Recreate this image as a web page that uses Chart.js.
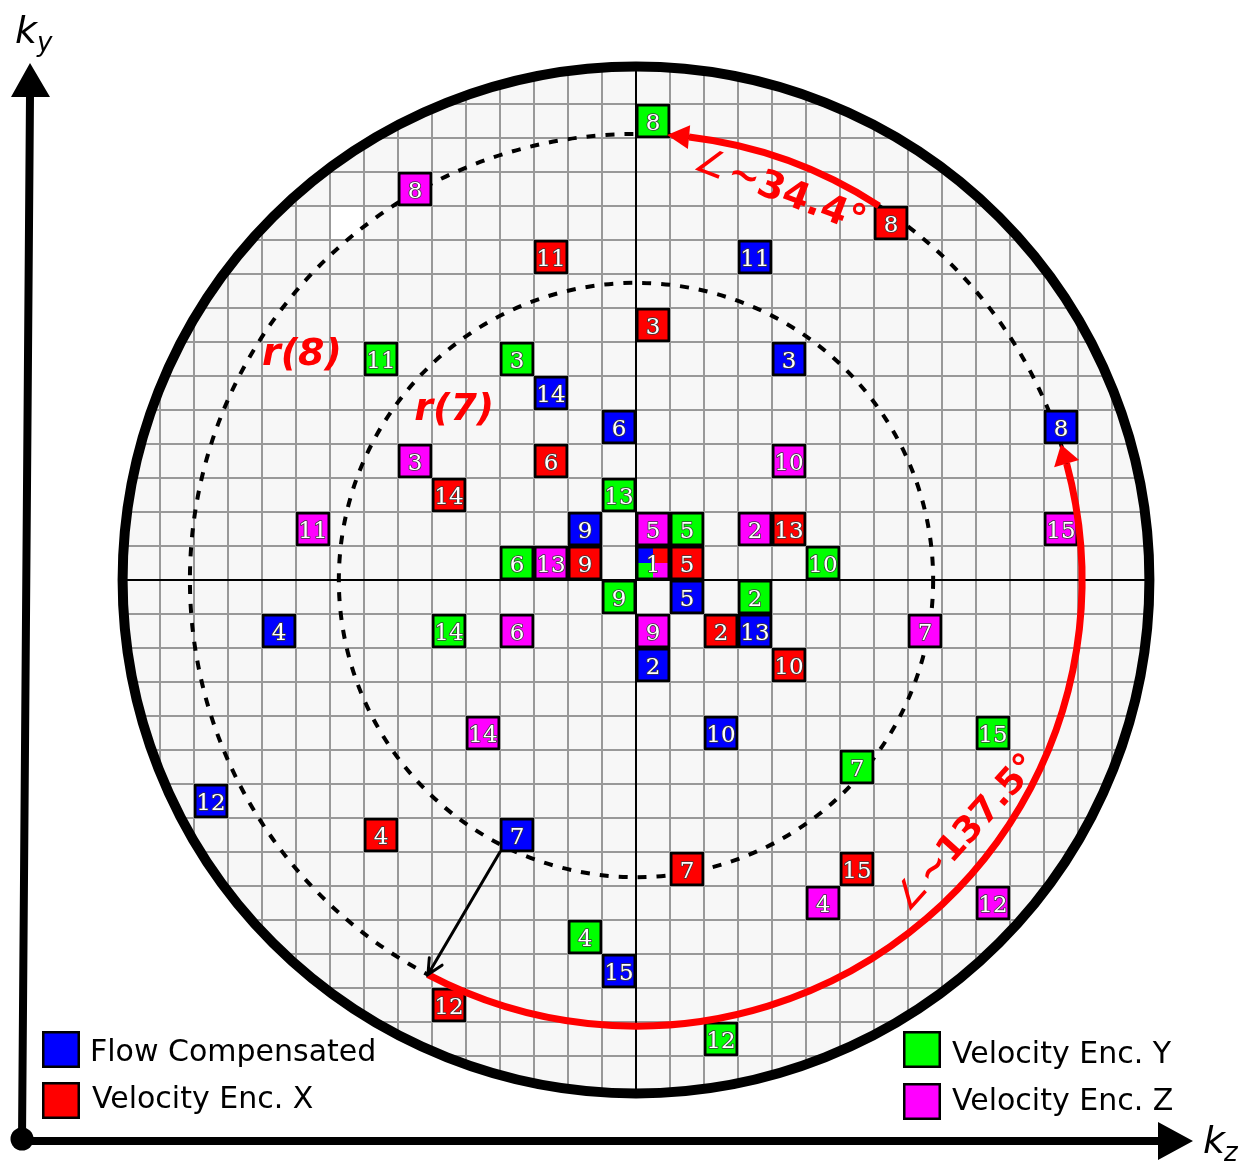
<!DOCTYPE html>
<html>
<head>
<meta charset="utf-8">
<script src="https://cdn.jsdelivr.net/npm/chart.js@4.4.1/dist/chart.umd.min.js"></script>
<style>
  html, body { margin: 0; padding: 0; background: #fff; }
  canvas { display: block; }
</style>
</head>
<body>
<canvas id="kspace" width="1245" height="1163"></canvas>
<script>
// k-space cells (kz, ky) of each acquisition, index = order - 1
const orderLabels = ['1','2','3','4','5','6','7','8','9','10','11','12','13','14','15'];

const fcKz = [0, 0, 4, -11, 1, -1, -4, 12, -2, 2, 3, -13, 3, -3, -1];
const fcKy = [0, -3, 6, -2, -1, 4, -8, 4, 1, -5, 9, -7, -2, 5, -12];

const vxKz = [0, 2, 0, -8, 1, -3, 1, 7, -2, 4, -3, -6, 4, -6, 6];
const vxKy = [0, -2, 7, -8, 0, 3, -9, 10, 0, -3, 9, -13, 1, 2, -9];

const vyKz = [0, 3, -4, -2, 1, -4, 6, 0, -1, 5, -8, 2, -1, -6, 10];
const vyKy = [0, -1, 6, -11, 1, 0, -6, 13, -1, 0, 6, -14, 2, -2, -5];

const vzKz = [0, 3, -7, 5, 0, -4, 8, -7, 0, 4, -10, 10, -3, -5, 12];
const vzKy = [0, 1, 3, -10, 1, -2, -2, 11, -2, 3, 1, -10, 0, -5, 1];

const encodings = ['Flow Compensated', 'Velocity Enc. X', 'Velocity Enc. Y', 'Velocity Enc. Z'];
const encColors = ['#0000ff', '#ff0000', '#00ff00', '#ff00ff'];
const kzSets = [fcKz, vxKz, vyKz, vzKz];
const kySets = [fcKy, vxKy, vyKy, vzKy];

// unsampled cell left white in the grid
const blankCells = [[-9, 10]];

// geometry in cell units
const outerR = 15.1;
const r8 = 13.12;
const r7 = 8.74;
const RED = '#ff0000';

const cellPx = chart => chart.scales.x.getPixelForValue(1) - chart.scales.x.getPixelForValue(0);

function arcArrow(ctx, cx, cy, r, a0, a1, head, halfW) {
  const rad = d => d * Math.PI / 180;
  const tipA = rad(a1);
  const baseA = tipA - head / r;
  ctx.beginPath();
  ctx.arc(cx, cy, r, -rad(a0), -baseA, true);
  ctx.stroke();
  const tx = cx + r * Math.cos(tipA), ty = cy - r * Math.sin(tipA);
  const bx = cx + r * Math.cos(baseA), by = cy - r * Math.sin(baseA);
  const dx = tx - bx, dy = ty - by, len = Math.hypot(dx, dy);
  const px = -dy / len * halfW, py = dx / len * halfW;
  ctx.beginPath();
  ctx.moveTo(tx, ty);
  ctx.lineTo(bx + px, by + py);
  ctx.lineTo(bx - px, by - py);
  ctx.closePath();
  ctx.fill();
}

function angleLabel(ctx, px, py, rot, value, size) {
  ctx.save();
  ctx.translate(px, py);
  ctx.rotate(rot * Math.PI / 180);
  ctx.fillStyle = RED;
  ctx.textAlign = 'left';
  ctx.textBaseline = 'alphabetic';
  ctx.font = '36px "DejaVu Sans"';
  ctx.fillText('\u2220', 0, 0);
  const w = ctx.measureText('\u2220').width;
  ctx.font = 'bold ' + size + 'px "DejaVu Sans"';
  ctx.fillText('~' + value + '\u00b0', w + 3, 0);
  ctx.restore();
}

const kspaceDecor = {
  id: 'kspaceDecor',
  beforeDatasetsDraw(chart) {
    const { ctx, scales: { x, y } } = chart;
    const cx = x.getPixelForValue(0), cy = y.getPixelForValue(0);
    const u = cellPx(chart);
    const R = outerR * u;

    ctx.save();
    ctx.beginPath();
    ctx.arc(cx, cy, R, 0, 2 * Math.PI);
    ctx.fillStyle = '#f7f7f7';
    ctx.fill();
    ctx.clip();

    ctx.fillStyle = '#ffffff';
    blankCells.forEach(([i, j]) => {
      ctx.fillRect(x.getPixelForValue(i), y.getPixelForValue(j + 1), u, u);
    });

    ctx.strokeStyle = '#999999';
    ctx.lineWidth = 2;
    for (let k = -16; k <= 16; k++) {
      const gx = x.getPixelForValue(k), gy = y.getPixelForValue(k);
      ctx.beginPath();
      ctx.moveTo(gx, cy - R); ctx.lineTo(gx, cy + R);
      ctx.moveTo(cx - R, gy); ctx.lineTo(cx + R, gy);
      ctx.stroke();
    }
    ctx.strokeStyle = '#000';
    ctx.lineWidth = 2;
    ctx.beginPath();
    ctx.moveTo(cx, cy - R); ctx.lineTo(cx, cy + R);
    ctx.moveTo(cx - R, cy); ctx.lineTo(cx + R, cy);
    ctx.stroke();
    ctx.restore();

    // dashed radius circles
    ctx.save();
    ctx.strokeStyle = '#000';
    ctx.lineWidth = 4;
    ctx.setLineDash([9, 10]);
    [r8, r7].forEach(r => {
      ctx.beginPath();
      ctx.arc(cx, cy, r * u, 0, 2 * Math.PI);
      ctx.stroke();
    });
    ctx.restore();

    ctx.save();
    ctx.strokeStyle = '#000';
    ctx.lineWidth = 10;
    ctx.beginPath();
    ctx.arc(cx, cy, R, 0, 2 * Math.PI);
    ctx.stroke();
    ctx.restore();
  },

  afterDatasetsDraw(chart) {
    const { ctx, scales: { x, y } } = chart;
    const cx = x.getPixelForValue(0), cy = y.getPixelForValue(0);
    const u = cellPx(chart);

    // shared centre cell, split into the four encodings
    const l = x.getPixelForValue(0), t = y.getPixelForValue(1), h = u / 2;
    ctx.save();
    ctx.fillStyle = encColors[0]; ctx.fillRect(l, t, h, h);
    ctx.fillStyle = encColors[1]; ctx.fillRect(l + h, t, h, h);
    ctx.fillStyle = encColors[2]; ctx.fillRect(l, t + h, h, h);
    ctx.fillStyle = encColors[3]; ctx.fillRect(l + h, t + h, h, h);
    ctx.strokeStyle = '#000';
    ctx.lineWidth = 2.5;
    ctx.strokeRect(l + 1.25, t + 1.25, u - 2.5, u - 2.5);
    ctx.restore();

    // order numbers
    ctx.save();
    ctx.font = '23px "DejaVu Serif"';
    ctx.textAlign = 'center';
    ctx.textBaseline = 'alphabetic';
    ctx.lineJoin = 'round';
    ctx.strokeStyle = '#3a3a3a';
    ctx.lineWidth = 1.6;
    ctx.fillStyle = '#fff';
    chart.data.datasets.forEach((ds, e) => {
      ds.data.forEach((p, i) => {
        if (i === 0 && e > 0) return;
        const px = x.getPixelForValue(p.x), py = y.getPixelForValue(p.y) + 8.5;
        ctx.strokeText(orderLabels[i], px, py);
        ctx.fillText(orderLabels[i], px, py);
      });
    });
    ctx.restore();

    // golden-angle steps
    ctx.save();
    ctx.strokeStyle = RED;
    ctx.fillStyle = RED;
    ctx.lineWidth = 7;
    arcArrow(ctx, cx, cy, r8 * u, 57, 86, 22, 12);
    arcArrow(ctx, cx, cy, r8 * u, 242.2, 377.7, 20, 13);
    ctx.restore();

    // radial jump from r(7) to r(8)
    const a = 242.2 * Math.PI / 180;
    const sx = x.getPixelForValue(-4), sy = y.getPixelForValue(-8);
    const ex = cx + r8 * u * Math.cos(a), ey = cy - r8 * u * Math.sin(a);
    const dir = Math.atan2(ey - sy, ex - sx);
    ctx.save();
    ctx.strokeStyle = '#000';
    ctx.lineWidth = 3;
    ctx.lineCap = 'round';
    ctx.beginPath();
    ctx.moveTo(sx, sy); ctx.lineTo(ex, ey);
    ctx.moveTo(ex - 17 * Math.cos(dir - 0.45), ey - 17 * Math.sin(dir - 0.45));
    ctx.lineTo(ex, ey);
    ctx.lineTo(ex - 17 * Math.cos(dir + 0.45), ey - 17 * Math.sin(dir + 0.45));
    ctx.stroke();
    ctx.restore();

    angleLabel(ctx, x.getPixelForValue(1.65), y.getPixelForValue(12.1), 21, '34.4', 38);
    angleLabel(ctx, x.getPixelForValue(8.0), y.getPixelForValue(-9.8), -48, '137.5', 36);

    ctx.save();
    ctx.fillStyle = RED;
    ctx.font = 'italic bold 38px "DejaVu Sans"';
    ctx.textAlign = 'left';
    ctx.fillText('r(8)', x.getPixelForValue(-11), y.getPixelForValue(6.32));
    ctx.fillText('r(7)', x.getPixelForValue(-6.52), y.getPixelForValue(4.71));
    ctx.restore();

    // axes
    ctx.save();
    ctx.strokeStyle = '#000';
    ctx.fillStyle = '#000';
    ctx.lineWidth = 8;
    ctx.beginPath();
    ctx.moveTo(22, 1139); ctx.lineTo(30, 95);
    ctx.moveTo(22, 1141); ctx.lineTo(1162, 1141);
    ctx.stroke();
    ctx.beginPath();
    ctx.moveTo(30, 63); ctx.lineTo(50, 97); ctx.lineTo(11, 97); ctx.closePath();
    ctx.moveTo(1193, 1141); ctx.lineTo(1158, 1122); ctx.lineTo(1158, 1160); ctx.closePath();
    ctx.fill();
    ctx.beginPath();
    ctx.arc(22, 1139, 11.5, 0, 2 * Math.PI);
    ctx.fill();
    ctx.font = 'italic 38px "DejaVu Sans"';
    ctx.fillText('k', 15, 43);
    ctx.fillText('k', 1203, 1153);
    ctx.font = 'italic 26px "DejaVu Sans"';
    ctx.fillText('y', 37, 51);
    ctx.fillText('z', 1224, 1161);
    ctx.restore();

    // legend
    const legendPos = [[42, 1031, 90, 1061], [42, 1082, 92, 1108], [903, 1031, 952, 1063], [903, 1083, 952, 1110]];
    ctx.save();
    ctx.font = '30px "DejaVu Sans"';
    ctx.textAlign = 'left';
    encodings.forEach((name, e) => {
      const [bx, by, tx, ty] = legendPos[e];
      ctx.fillStyle = encColors[e];
      ctx.fillRect(bx, by, 38, 37);
      ctx.strokeStyle = '#000';
      ctx.lineWidth = 2.5;
      ctx.strokeRect(bx + 1.25, by + 1.25, 35.5, 34.5);
      ctx.fillStyle = '#000';
      ctx.fillText(name, tx, ty);
    });
    ctx.restore();
  }
};

const datasets = encodings.map((name, e) => ({
  label: name,
  data: kzSets[e].map((kz, i) => ({ x: kz + 0.5, y: kySets[e][i] + 0.5 })),
  showLine: false,
  pointStyle: 'rect',
  pointRadius: c => c.dataIndex === 0 ? 0 : (cellPx(c.chart) - 2.5) / Math.SQRT2,
  pointBackgroundColor: encColors[e],
  pointBorderColor: '#000',
  pointBorderWidth: 2.5
}));

new Chart(document.getElementById('kspace'), {
  type: 'scatter',
  data: { datasets },
  options: {
    responsive: false,
    animation: false,
    events: [],
    layout: { padding: 0 },
    plugins: { legend: { display: false }, tooltip: { enabled: false } },
    scales: {
      x: { type: 'linear', display: false, min: -636 / 34, max: (1245 - 636) / 34 },
      y: { type: 'linear', display: false, min: -(1163 - 580) / 34, max: 580 / 34 }
    }
  },
  plugins: [kspaceDecor]
});
</script>
</body>
</html>
